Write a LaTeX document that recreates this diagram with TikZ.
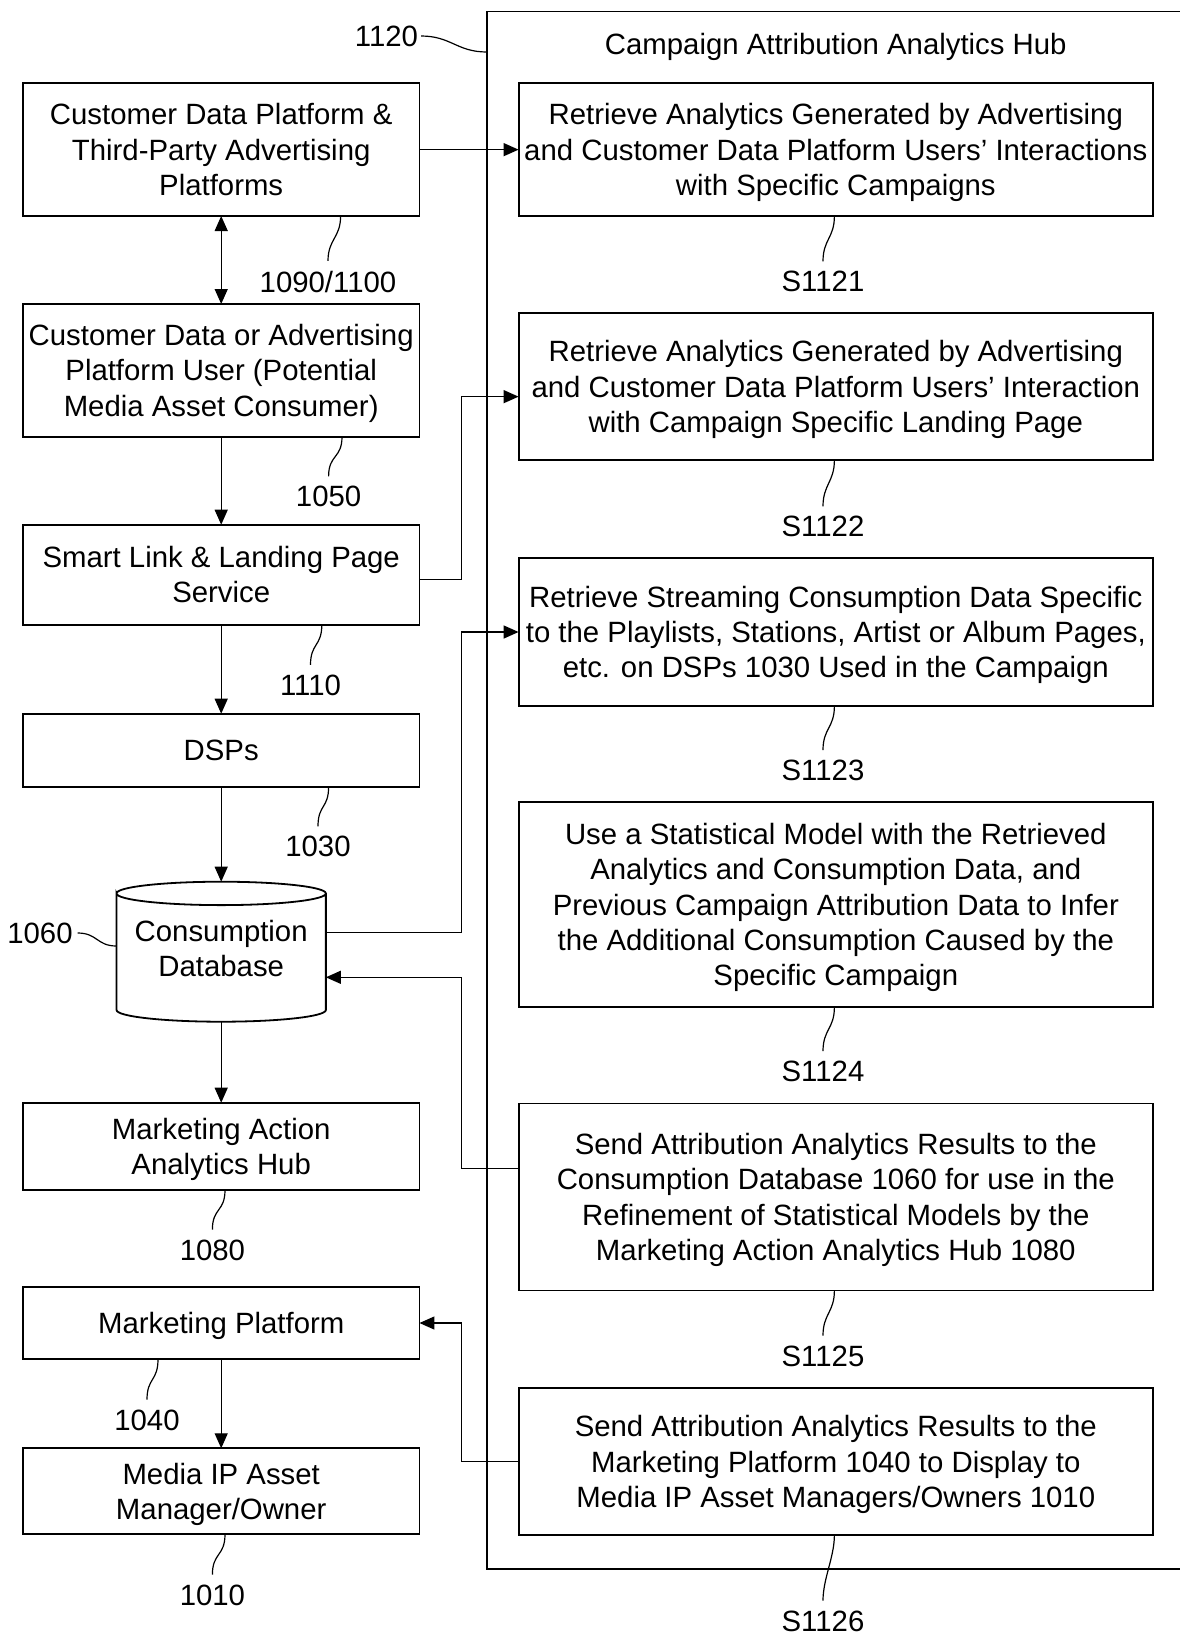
\documentclass[tikz,border=0pt]{standalone}
\usepackage{fontspec}
\setmainfont{Liberation Sans}
\usetikzlibrary{arrows.meta,positioning}

\begin{document}
\begin{tikzpicture}[->,>={Triangle[length=15pt,width=13pt]},x=1pt,y=-1pt,
    line width=1.3pt,node distance=88pt,
    font=\fontsize{29.35}{35.3}\selectfont,
    every node/.style={outer sep=0pt},
    box/.style={draw,line width=1.8pt,align=center,inner sep=0pt,text depth=0pt,minimum width=396.5pt},
    task/.style={draw,line width=1.8pt,align=center,inner sep=0pt,text depth=0pt,minimum width=634.4pt},
    hubbox/.style={draw,line width=1.5pt,inner sep=0pt,minimum width=706.4pt,minimum height=1557.5pt},
    dbbox/.style={inner sep=0pt,align=center,text depth=6pt,minimum width=209.3pt,minimum height=140pt},
    leader/.style={-,line width=1.2pt},
    num/.style={inner sep=0pt}]

  \useasboundingbox (0,0) rectangle (1179,1636);

  % hub frame (runs off the right edge)
  \node[hubbox] (hub) at (840,790.25) {};
  \node (title) at (835.8,46.7) {Campaign Attribution Analytics Hub};

  % left column
  \node[box,minimum height=132.7pt] (cdp) at (221.2,149.65) {Customer Data Platform \&\\Third-Party Advertising\\Platforms};
  \node[box,minimum height=132.7pt] (user) [below=of cdp] {Customer Data or Advertising\\Platform User (Potential\\Media Asset Consumer)};
  \node[box,minimum height=100pt]   (smart) [below=of user] {Smart Link \& Landing Page\\Service};
  \node[box,minimum height=73pt]    (dsp) [below=89pt of smart] {DSPs};
  \node[dbbox]                      (db) [below=95pt of dsp] {Consumption\\Database};
  \node[box,minimum height=87.3pt]  (ma) [below=81pt of db] {Marketing Action\\Analytics Hub};
  \node[box,minimum height=72.6pt]  (mp) [below=96.7pt of ma] {Marketing Platform};
  \node[box,minimum height=86pt]    (mip) [below=89pt of mp] {Media IP Asset\\Manager/Owner};

  % database drum
  \draw[-,line width=1.8pt] ([yshift=-11.7pt]db.north west)
    arc[start angle=180,end angle=-180,x radius=104.65pt,y radius=11.7pt]
    -- ([yshift=11.7pt]db.south west)
    arc[start angle=180,end angle=360,x radius=104.65pt,y radius=11.7pt]
    -- ([yshift=-11.7pt]db.north east);

  % right column (steps)
  \node[task,minimum height=132.7pt] (r1) at (835.8,149.65) {Retrieve Analytics Generated by Advertising\\and Customer Data Platform Users’ Interactions\\with Specific Campaigns};
  \node[task,minimum height=146.7pt] (r2) [below=97.3pt of r1] {Retrieve Analytics Generated by Advertising\\and Customer Data Platform Users’ Interaction\\with Campaign Specific Landing Page};
  \node[task,minimum height=148pt]   (r3) [below=98pt of r2] {Retrieve Streaming Consumption Data Specific\\to the Playlists, Stations, Artist or Album Pages,\\etc. on DSPs 1030 Used in the Campaign};
  \node[task,minimum height=205pt]   (r4) [below=96pt of r3] {Use a Statistical Model with the Retrieved\\Analytics and Consumption Data, and\\Previous Campaign Attribution Data to Infer\\the Additional Consumption Caused by the\\Specific Campaign};
  \node[task,minimum height=187pt]   (r5) [below=96.4pt of r4] {Send Attribution Analytics Results to the\\Consumption Database 1060 for use in the\\Refinement of Statistical Models by the\\Marketing Action Analytics Hub 1080};
  \node[task,minimum height=147pt]   (r6) [below=97.6pt of r5] {Send Attribution Analytics Results to the\\Marketing Platform 1040 to Display to\\Media IP Asset Managers/Owners 1010};

  % reference numerals
  \node[num] (l1120) at (386.5,36) {1120};
  \node[num] (l1090) at (328,281.7) {1090/1100};
  \node[num] (l1050) at (328.6,496.7) {1050};
  \node[num] (l1110) at (310.5,685.3) {1110};
  \node[num] (l1030) at (318,846.7) {1030};
  \node[num] (l1060) at (40,933) {1060};
  \node[num] (l1080) at (212.4,1250) {1080};
  \node[num] (l1040) at (147,1420) {1040};
  \node[num] (l1010) at (212.4,1595) {1010};
  \node[num] (s1121) at (823,281.7) {S1121};
  \node[num] (s1122) at (823,526.8) {S1122};
  \node[num] (s1123) at (823,770.5) {S1123};
  \node[num] (s1124) at (823,1071.6) {S1124};
  \node[num] (s1125) at (823,1356) {S1125};
  \node[num] (s1126) at (823,1621) {S1126};

  % flow
  \draw (cdp.east) -- (r1.west);
  \draw[<->] (cdp) -- (user);
  \draw (user) -- (smart);
  \draw (smart) -- (dsp);
  \draw (dsp) -- (db);
  \draw (db) -- (ma);
  \draw (mp) -- (mip);

  \coordinate (bus) at (461.5,0);
  \coordinate (smartout) at ([yshift=-5pt]smart.east);
  \coordinate (r2in) at ([yshift=-10pt]r2.west);
  \coordinate (dbout) at ([yshift=19.4pt]db.east);
  \coordinate (dbin) at ([yshift=-25.6pt]db.east);
  \coordinate (r5out) at ([yshift=28.7pt]r5.west);
  \draw (smartout) -| (bus |- r2in) -- (r2in);
  \draw (dbout) -| (bus |- r3.west) -- (r3.west);
  \draw (r5out) -| (bus |- dbin) -- (dbin);
  \draw (r6.west) -| (bus |- mp.east) -- (mp.east);

  % leaders
  \draw[leader] ([xshift=3pt]l1120.east) .. controls +(30,0) and +(-30,0) .. ([yshift=-40.5pt]hub.north west);
  \draw[leader] ([xshift=5pt]l1060.east) .. controls +(20,0) and +(-20,0) .. ([yshift=5.7pt]db.west);
  \draw[leader] ([xshift=119.4pt]cdp.south) .. controls +(0,22) and +(0,-22) .. ([yshift=10pt]l1090.north);
  \draw[leader] ([xshift=120.8pt]user.south) .. controls +(0,22) and +(0,-22) .. ([yshift=10pt]l1050.north);
  \draw[leader] ([xshift=100.6pt]smart.south) .. controls +(0,22) and +(0,-22) .. ([yshift=10pt]l1110.north);
  \draw[leader] ([xshift=107.4pt]dsp.south) .. controls +(0,22) and +(0,-22) .. ([yshift=10pt]l1030.north);
  \draw[leader] ([xshift=3.8pt]ma.south) .. controls +(0,22) and +(0,-22) .. ([yshift=10pt]l1080.north);
  \draw[leader] ([xshift=-63.2pt]mp.south) .. controls +(0,22) and +(0,-22) .. ([yshift=10pt]l1040.north);
  \draw[leader] ([xshift=3.8pt]mip.south) .. controls +(0,22) and +(0,-22) .. ([yshift=10pt]l1010.north);
  \draw[leader] ([xshift=-1.4pt]r1.south) .. controls +(0,22) and +(0,-22) .. ([yshift=10pt]s1121.north);
  \draw[leader] ([xshift=-1.4pt]r2.south) .. controls +(0,22) and +(0,-22) .. ([yshift=10pt]s1122.north);
  \draw[leader] ([xshift=-1.4pt]r3.south) .. controls +(0,22) and +(0,-22) .. ([yshift=10pt]s1123.north);
  \draw[leader] ([xshift=-1.4pt]r4.south) .. controls +(0,22) and +(0,-22) .. ([yshift=10pt]s1124.north);
  \draw[leader] ([xshift=-1.4pt]r5.south) .. controls +(0,22) and +(0,-22) .. ([yshift=10pt]s1125.north);
  \draw[leader] ([xshift=-1.4pt]r6.south) .. controls +(0,22) and +(0,-22) .. ([yshift=10pt]s1126.north);
\end{tikzpicture}
\end{document}
